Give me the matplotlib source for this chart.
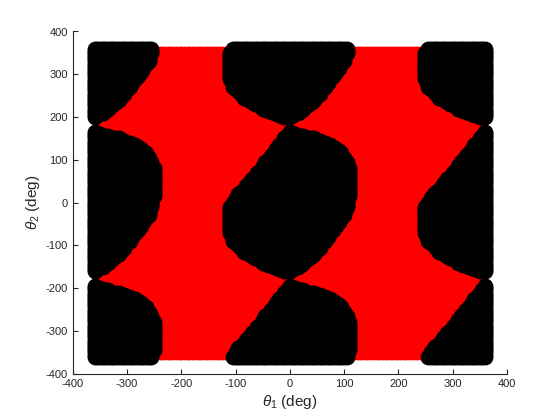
import numpy as np
import matplotlib
matplotlib.use("Agg")
import matplotlib.pyplot as plt
from matplotlib.path import Path

plt.rcParams["font.family"] = ["Liberation Sans", "DejaVu Sans"]
plt.rcParams["mathtext.fontset"] = "custom"
plt.rcParams["mathtext.rm"] = "Liberation Sans"
plt.rcParams["mathtext.it"] = "Liberation Sans:italic"
plt.rcParams["axes.unicode_minus"] = False

# joint angle grid (deg)
theta_min, theta_max, theta_step = -360, 360, 5

# outline of the collision region around theta1 = 0 (deg);
# the C-space repeats every 360 deg on both joints
blob_t1 = [1.3, 12.3, 37.6, 64.7, 87.0, 102.1, 111.5, 114.7, 111.3, 100.8, 76.9, 50.3, 26.5, 7.7,
           -1.5, -21.9, -46.6, -81.7, -105.6, -110.6, -113.9, -109.3, -100.5, -84.4, -58.3, -34.1, -11.2]
blob_t2 = [168.0, 158.4, 152.7, 143.2, 127.0, 106.2, 76.1, 45.9, 17.4, -29.3, -71.6, -113.7, -142.4, -155.3,
           -164.0, -155.5, -142.9, -118.6, -92.9, -66.9, -34.0, -4.8, 13.2, 33.6, 74.0, 112.5, 149.7]
period = 360

theta = np.arange(theta_min, theta_max + 1, theta_step)
T1, T2 = np.meshgrid(theta, theta)
pts = np.column_stack([T1.ravel(), T2.ravel()])

blob = Path(np.column_stack([blob_t1, blob_t2]), closed=False)
hit = np.zeros(len(pts), dtype=bool)
for i in (-1, 0, 1):
    for j in (-1, 0, 1):
        hit |= blob.contains_points(pts - [i * period, j * period])

free = pts[~hit]
coll = pts[hit]

fig = plt.figure(figsize=(5.6, 4.2), dpi=100)
ax = fig.add_axes([0.13, 0.11, 0.775, 0.815])

ax.scatter(free[:, 0], free[:, 1], s=18, c="red", marker="o", linewidths=0, zorder=2)
ax.scatter(coll[:, 0], coll[:, 1], s=130, c="black", marker="o", linewidths=0, zorder=3)

ax.set_xlim(-400, 400)
ax.set_ylim(-400, 400)
ax.set_xticks(np.arange(-400, 401, 100))
ax.set_yticks(np.arange(-400, 401, 100))
for side in ("top", "right"):
    ax.spines[side].set_visible(False)
for side in ("left", "bottom"):
    ax.spines[side].set_color("#262626")
    ax.spines[side].set_linewidth(0.8)
ax.tick_params(direction="in", length=3.5, width=0.8, labelsize=8, colors="#262626",
               top=False, right=False)

ax.set_xlabel(r"$\theta_1$ (deg)", fontsize=11, color="#262626", labelpad=3)
ax.set_ylabel(r"$\theta_2$ (deg)", fontsize=11, color="#262626", labelpad=3)

fig.savefig("out.png", dpi=100)
